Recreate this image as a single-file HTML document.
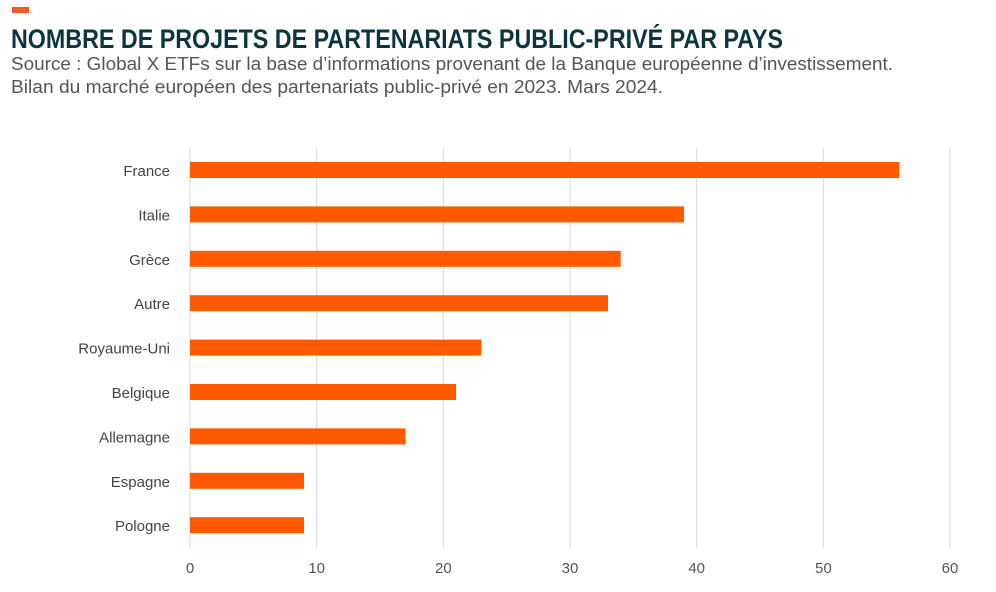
<!DOCTYPE html>
<html><head><meta charset="utf-8"><style>
body{margin:0;background:#fff;}
svg{display:block;font-family:"Liberation Sans",sans-serif;}
</style></head><body>
<svg id="c" width="996" height="592">
<rect x="12" y="7" width="17" height="6" fill="#f2592a"/>
<text x="11" y="48" font-size="27" font-weight="bold" fill="#0d3540" textLength="772" lengthAdjust="spacingAndGlyphs">NOMBRE DE PROJETS DE PARTENARIATS PUBLIC-PRIVÉ PAR PAYS</text>
<text x="11" y="70" font-size="18" fill="#555" textLength="882" lengthAdjust="spacingAndGlyphs">Source : Global X ETFs sur la base d’informations provenant de la Banque européenne d’investissement.</text>
<text x="11" y="93" font-size="18" fill="#555" textLength="652" lengthAdjust="spacingAndGlyphs">Bilan du marché européen des partenariats public-privé en 2023. Mars 2024.</text>
<g id="plot"></g>
</svg>
<script>
const categories=["France","Italie","Grèce","Autre","Royaume-Uni","Belgique","Allemagne","Espagne","Pologne"];
const values=[56,39,34,33,23,21,17,9,9];
const ticks=[0,10,20,30,40,50,60];
const NS="http://www.w3.org/2000/svg";
const g=document.getElementById('plot');
const x0=190,x1=950,xmax=60,yTop=148,yBot=548,step=44.4,yFirst=170;
const xs=v=>x0+(x1-x0)*v/xmax;
const ys=i=>yFirst+i*step;
function mk(t,a){const e=document.createElementNS(NS,t);for(const k in a)e.setAttribute(k,a[k]);g.appendChild(e);return e;}
ticks.forEach(t=>{
 const l=mk('line',{x1:xs(t),x2:xs(t),y1:yTop,y2:yBot,stroke:'#d9d9d9','stroke-width':1});
 
 
 const tx=mk('text',{x:xs(t),y:573,'font-size':15,fill:'#555','text-anchor':'middle'});
 tx.textContent=t;
 
 
});
categories.forEach((c,i)=>{
 const r=mk('rect',{x:x0,y:ys(i)-8,width:xs(values[i])-x0,height:16,fill:'#ff5a00'});
 
 
 const tx=mk('text',{x:170,y:ys(i)+6,'font-size':15,fill:'#444','text-anchor':'end'});
 tx.textContent=c;
 
 
});
</script>
</body></html>
